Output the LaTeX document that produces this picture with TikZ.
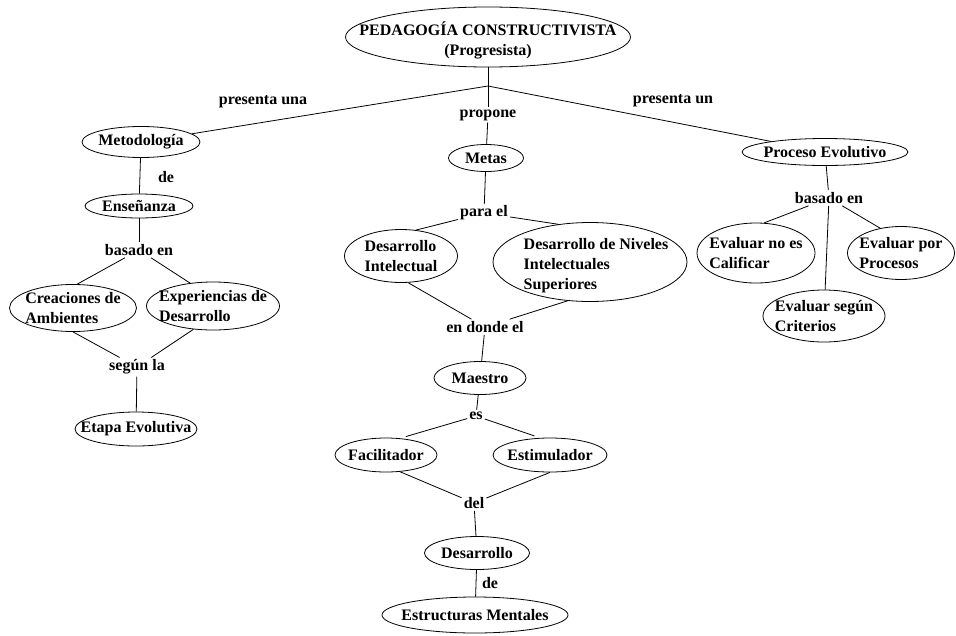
\documentclass[tikz,border=0pt]{standalone}
\usepackage{fontspec}
\setmainfont{Liberation Serif}
\usetikzlibrary{shapes.geometric}

\begin{document}
\begin{tikzpicture}[
    x=1pt, y=-1pt,
    every node/.style={font=\bfseries\fontsize{16}{20}\selectfont},
    bub/.style={ellipse, draw, line width=0.8pt, inner sep=0pt},
    wh/.style 2 args={minimum width=#1, minimum height=#2},
    txt/.style={inner sep=0pt, align=center},
    txl/.style={inner sep=0pt, align=left},
    rel/.style={inner sep=2pt},
    con/.style={line width=0.8pt}
]
\useasboundingbox (0,0) rectangle (956,635);

\node[bub, wh={285}{60}, label={[txt, yshift=-3pt]center:PEDAGOGÍA CONSTRUCTIVISTA\\(Progresista)}] (top) at (488,37) {};
\coordinate (j0) at (488,86);
\node[rel] (pru) at (263,102) {presenta una};
\node[rel] (pro) at (488,115) {propone};
\node[rel] (prn) at (673,101) {presenta un};

\node[bub, wh={118}{31}, label={[txt]center:Metodología}] (met) at (141,142) {};
\node[rel] (de1) at (166,177) {de};
\node[bub, wh={108}{24}, label={[txt]center:Enseñanza}] (ens) at (139,206) {};
\node[rel] (bas1) at (139,250) {basado en};
\node[bub, wh={127}{47}, label={[txl]center:Creaciones de\\Ambientes}] (cre) at (73,308) {};
\node[bub, wh={133}{48}, label={[txl]center:Experiencias de\\Desarrollo}] (exp) at (213,306) {};
\node[rel] (seg) at (137,367) {según la};
\node[bub, wh={122}{34}, label={[txt]center:Etapa Evolutiva}] (eta) at (136,429) {};

\node[bub, wh={75}{27}, label={[txt]center:Metas}] (metas) at (486,158) {};
\node[rel] (para) at (484,213) {para el};
\node[bub, wh={113}{53}, label={[txl]center:Desarrollo\\Intelectual}] (dint) at (401,256) {};
\node[bub, wh={194}{79}, label={[txl, xshift=6pt, yshift=-4pt]center:Desarrollo de Niveles\\Intelectuales\\Superiores}] (dniv) at (590,262) {};
\node[rel] (endo) at (485,327) {en donde el};
\node[bub, wh={92}{33}, label={[txt]center:Maestro}] (mae) at (480,378) {};
\node[rel] (es) at (476,416) {es};
\node[bub, wh={102}{34}, label={[txt]center:Facilitador}] (fac) at (386,455) {};
\node[bub, wh={114}{34}, label={[txt]center:Estimulador}] (est) at (550,455) {};
\node[rel] (del) at (474,503) {del};
\node[bub, wh={105}{33}, label={[txt]center:Desarrollo}] (des) at (477,553) {};
\node[rel] (de2) at (490,583) {de};
\node[bub, wh={186}{36}, label={[txt]center:Estructuras Mentales}] (emen) at (475,615) {};

\node[bub, wh={166}{27}, label={[txt]center:Proceso Evolutivo}] (pev) at (825,152) {};
\node[rel] (bas2) at (829,198) {basado en};
\node[bub, wh={118}{60}, label={[txl]center:Evaluar no es\\Calificar}] (eno) at (756,253) {};
\node[bub, wh={107}{53}, label={[txl]center:Evaluar por\\Procesos}] (epo) at (901,253) {};
\node[bub, wh={122}{52}, label={[txl]center:Evaluar según\\Criterios}] (esc) at (824,316) {};

\draw[con] (top) -- (j0);
\draw[con] (j0) -- (met);
\draw[con] (j0) -- (pev);
\draw[con] (j0) -- (pro);
\draw[con] (pro) -- (metas);

\draw[con] (met) -- (ens);
\draw[con] (ens) -- (bas1);
\draw[con] (bas1) -- (cre.80);
\draw[con] (bas1) -- (exp.135);
\draw[con] (cre.south) -- (seg);
\draw[con] (exp.230) -- (seg);
\draw[con] (seg) -- (eta);

\draw[con] (metas) -- (para);
\draw[con] (para) -- (dint.60);
\draw[con] (para) -- (dniv.130);
\draw[con] (dint.285) -- (endo);
\draw[con] (dniv.240) -- (endo);
\draw[con] (endo) -- (mae);
\draw[con] (mae) -- (es);
\draw[con, shorten >=6pt] (es) -- (fac.50);
\draw[con, shorten >=6pt] (es) -- (est.120);
\draw[con] (fac.310) -- (del);
\draw[con] (est.south) -- (del);
\draw[con] (del) -- (des);
\draw[con] (des) -- (emen);

\draw[con] (pev) -- (bas2);
\draw[con] (bas2) -- (eno.75);
\draw[con] (bas2) -- (epo.130);
\draw[con] (bas2) -- (esc);
\end{tikzpicture}
\end{document}
